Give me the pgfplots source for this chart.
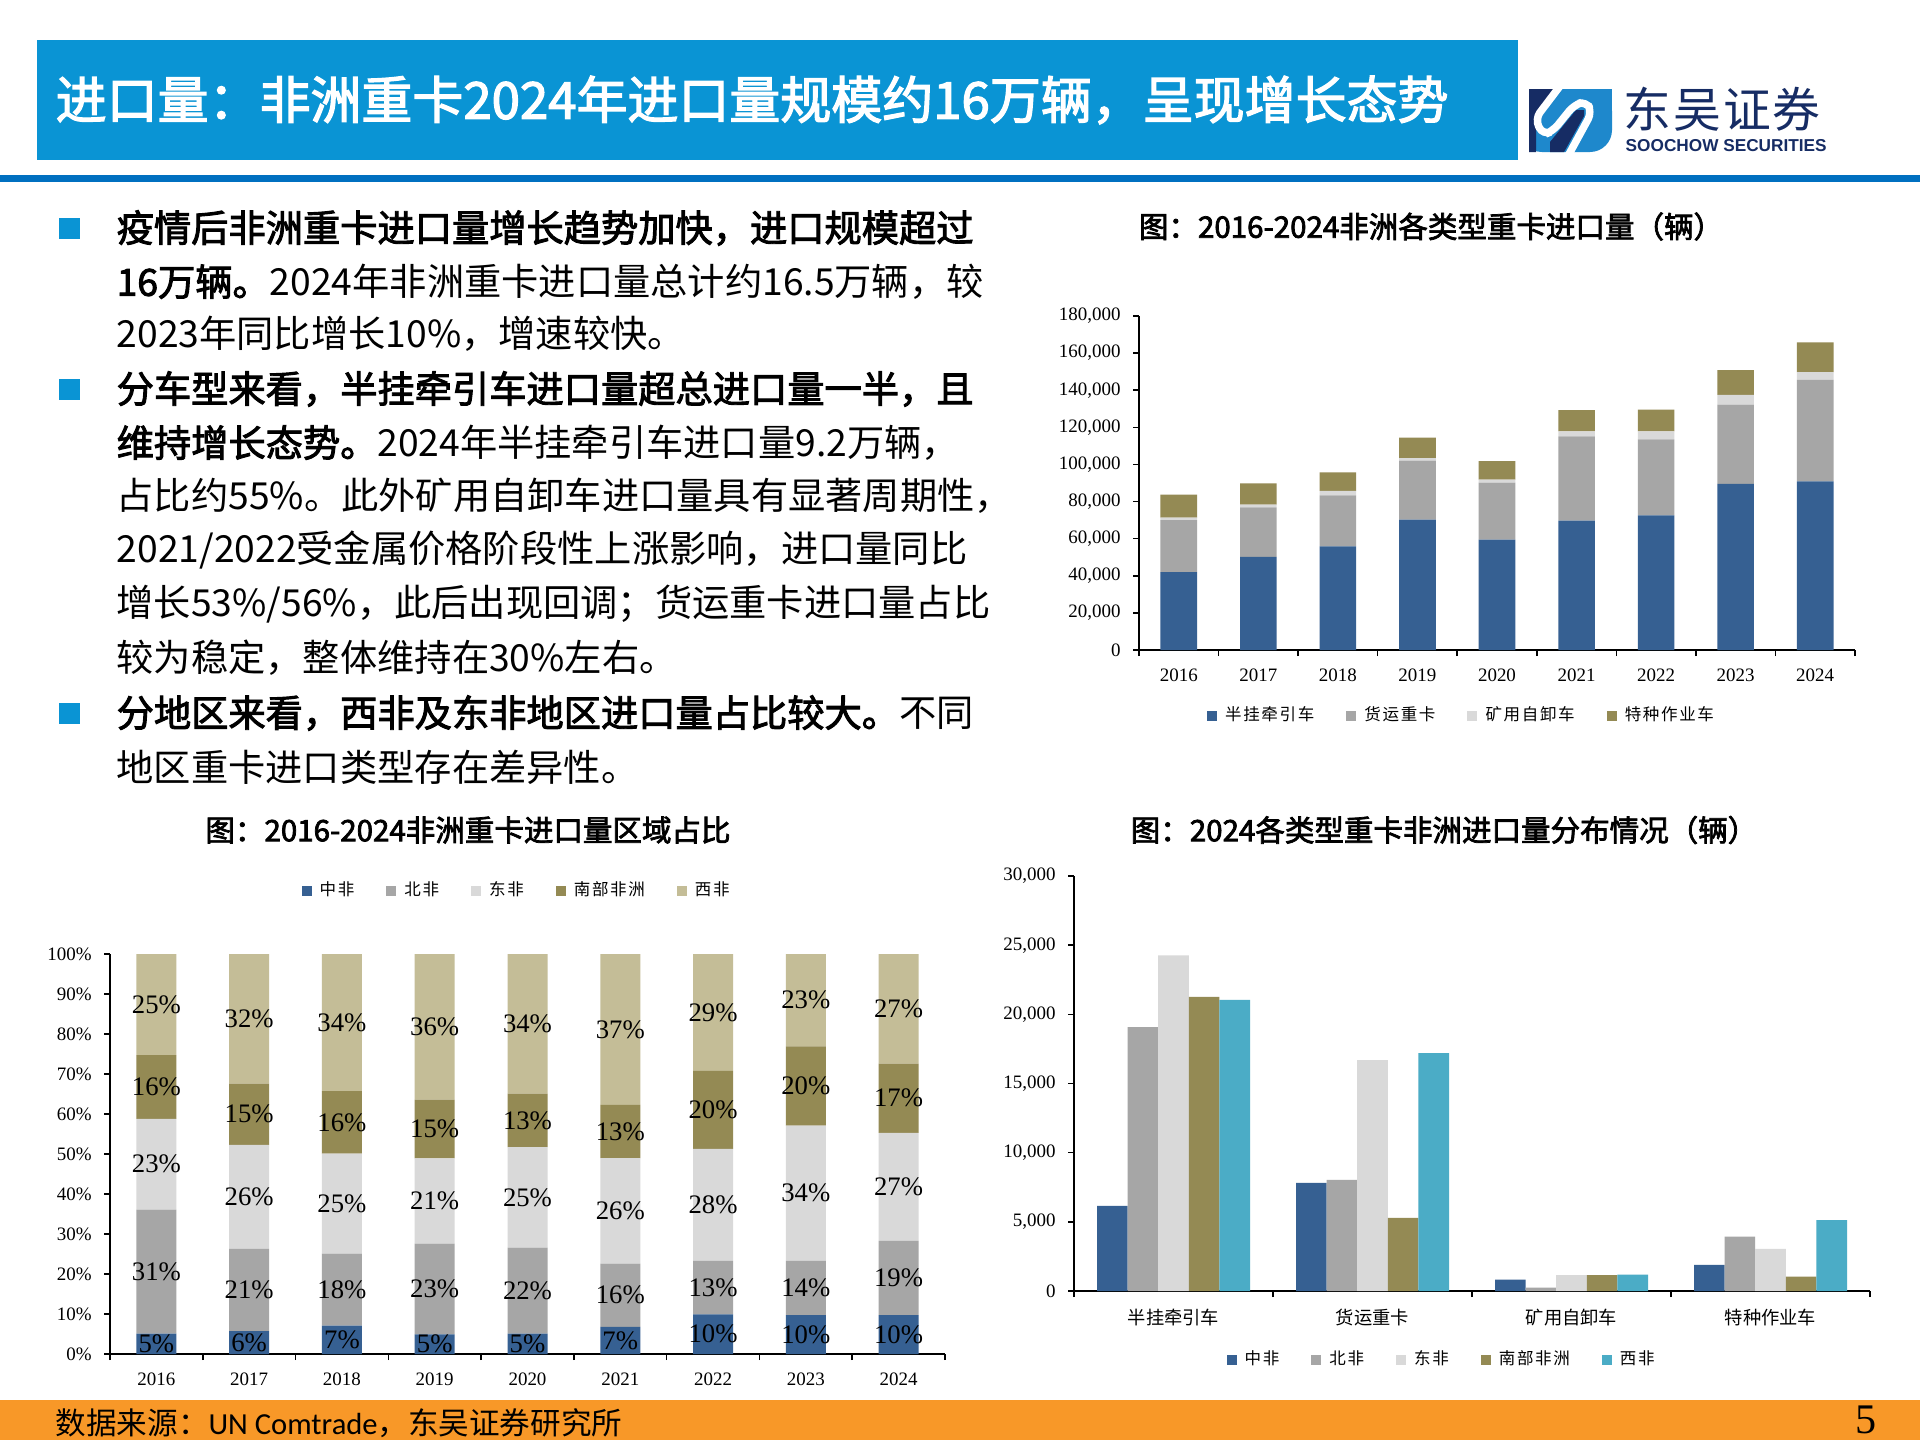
\documentclass[border=0pt]{standalone}
\usepackage{fontspec}
\usepackage{pgfplots}
\pgfplotsset{compat=1.18}
\setmainfont[AutoFakeBold=2.5]{Noto Sans CJK SC}
\newfontfamily\tnr{Liberation Serif}
\newfontfamily\lsans{Liberation Sans}
\newfontfamily\cali{Carlito}
\newfontfamily\legcjk[LetterSpace=10]{Noto Sans CJK SC}
\newfontfamily\logocjk[LetterSpace=4]{Noto Sans CJK SC}

\definecolor{titleblue}{RGB}{10,148,212}
\definecolor{lineblue}{RGB}{0,112,192}
\definecolor{footorange}{RGB}{248,152,40}
\definecolor{cblue}{RGB}{54,96,146}
\definecolor{cgray}{RGB}{166,166,166}
\definecolor{clight}{RGB}{217,217,217}
\definecolor{colive}{RGB}{148,138,84}
\definecolor{ctan}{RGB}{196,189,151}
\definecolor{cteal}{RGB}{75,172,198}
\definecolor{navy}{RGB}{22,44,100}
\definecolor{logoblue}{RGB}{30,136,204}

\pgfplotsset{
  slide/.style={
    scale only axis,
    anchor=south west,
    enlargelimits=false,
    axis x line*=bottom, axis y line*=left,
    tick align=outside,
    axis line style={black, line width=0.45pt},
    tick style={black, line width=0.45pt},
    major tick length=0.06cm,
    tick label style={font=\tnr\fontsize{5.4}{6}\selectfont},
    /pgf/number format/assume math mode=true,
    /pgf/number format/fixed,
    /pgf/number format/precision=0,
    /pgf/number format/1000 sep={,},
    scaled y ticks=false,
    ymin=0,
    legend style={draw=none, fill=none, legend columns=-1,
      font=\legcjk\fontsize{4.7}{5}\selectfont,
      /tikz/every even column/.append style={column sep=0.25cm},
      /tikz/every odd column/.append style={column sep=0.01cm}},
    legend image code/.code={\fill[##1] (0cm,-0.05cm) rectangle (0.10cm,0.05cm);},
  }
}

\begin{document}
\begin{tikzpicture}
\path[use as bounding box, fill=white] (0,0) rectangle (19.2,-14.4);

% header
\fill[titleblue] (0.37,-0.40) rectangle (15.18,-1.60);
\node[anchor=west, inner sep=0, text=white] at (0.55,-1.00) {\bfseries\fontsize{14.5}{16}\selectfont 进口量：非洲重卡2024年进口量规模约16万辆，呈现增长态势};
\fill[lineblue] (0,-1.75) rectangle (19.2,-1.82);

% logo
\begin{scope}
  \clip (15.29,-0.89) rectangle (16.12,-1.52);
  \fill[logoblue, rounded corners=0.22cm] (15.20,-0.89) -- (16.12,-0.89) -- (16.12,-1.52) -- (15.20,-1.52) -- cycle;
  \fill[logoblue] (15.20,-0.89) rectangle (16.12,-1.20);
  \fill[navy] (15.29,-0.89) -- (15.60,-0.89) -- (15.36,-1.20) -- (15.36,-1.52) -- (15.29,-1.52) -- cycle;
  \fill[navy] (15.50,-1.42) -- (15.76,-1.10) -- (15.84,-1.10) -- (15.84,-1.16) -- (15.64,-1.52) -- (15.50,-1.52) -- cycle;
  \draw[white, line width=0.075cm, rounded corners=0.08cm] (15.60,-0.86) -- (15.35,-1.19) -- (15.43,-1.35) -- (15.53,-1.31) -- (15.74,-1.05) -- (15.86,-1.01) -- (15.92,-1.12) -- (15.68,-1.56);
\end{scope}
\node[anchor=west, inner sep=0, text=navy] at (16.23,-1.09) {\logocjk\fontsize{13.6}{15}\selectfont 东吴证券};
\node[anchor=west, inner sep=0, text=navy] at (16.25,-1.46) {\lsans\bfseries\fontsize{4.9}{5}\selectfont SOOCHOW SECURITIES};

% bullets and body text
\foreach \yy in {2.28,3.89,7.13} {\fill[titleblue] (0.59,-\yy+0.105) rectangle (0.80,-\yy-0.105);}
\begin{scope}[every node/.style={anchor=west, inner sep=0, font=\fontsize{10.6}{12}\selectfont}]
\node at (1.16,-2.28) {\bfseries 疫情后非洲重卡进口量增长趋势加快，进口规模超过};
\node at (1.16,-2.82) {{\bfseries 16万辆。}2024年非洲重卡进口量总计约16.5万辆，较};
\node at (1.16,-3.34) {2023年同比增长10\%，增速较快。};
\node at (1.16,-3.89) {\bfseries 分车型来看，半挂牵引车进口量超总进口量一半，且};
\node at (1.16,-4.43) {{\bfseries 维持增长态势。}2024年半挂牵引车进口量9.2万辆，};
\node at (1.16,-4.96) {占比约55\%。此外矿用自卸车进口量具有显著周期性，};
\node at (1.16,-5.50) {2021/2022受金属价格阶段性上涨影响，进口量同比};
\node at (1.16,-6.04) {增长53\%/56\%，此后出现回调；货运重卡进口量占比};
\node at (1.16,-6.58) {较为稳定，整体维持在30\%左右。};
\node at (1.16,-7.13) {{\bfseries 分地区来看，西非及东非地区进口量占比较大。}不同};
\node at (1.16,-7.67) {地区重卡进口类型存在差异性。};
\end{scope}

% chart titles
\node[inner sep=0] at (14.31,-2.265) {\bfseries\fontsize{8.4}{9}\selectfont 图：2016-2024非洲各类型重卡进口量（辆）};
\node[inner sep=0] at (4.68,-8.30) {\bfseries\fontsize{8.4}{9}\selectfont 图：2016-2024非洲重卡进口量区域占比};
\node[inner sep=0] at (14.44,-8.30) {\bfseries\fontsize{8.4}{9}\selectfont 图：2024各类型重卡非洲进口量分布情况（辆）};

% ---------- chart 1 ----------
\begin{axis}[slide, at={(11.39cm,-6.50cm)}, width=7.16cm, height=3.34cm,
  ybar stacked, bar width=0.366cm,
  xmin=-0.5, xmax=8.5, ymax=180000,
  ytick={0,20000,...,180000},
  xtick={-0.5,0.5,...,8.5}, x tick label as interval,
  xticklabels={2016,2017,2018,2019,2020,2021,2022,2023,2024},
  legend style={at={(0.454,-0.198)}, anchor=center},
  legend image code/.code={\fill[#1] (0cm,-0.05cm) rectangle (0.10cm,0.05cm);},
]
\addplot[fill=cblue, draw=none] coordinates {(0,42000) (1,50200) (2,55900) (3,70300) (4,59500) (5,69700) (6,72600) (7,89500) (8,90900)};
\addplot[fill=cgray, draw=none] coordinates {(0,28000) (1,26700) (2,27500) (3,31700) (4,30700) (5,45400) (6,40900) (7,42800) (8,54700)};
\addplot[fill=clight, draw=none] coordinates {(0,1400) (1,1400) (2,2300) (3,1400) (4,1600) (5,2700) (6,4300) (7,5200) (8,4100)};
\addplot[fill=colive, draw=none] coordinates {(0,12300) (1,11500) (2,10000) (3,11000) (4,10000) (5,11500) (6,11800) (7,13300) (8,16100)};
\legend{半挂牵引车,货运重卡,矿用自卸车,特种作业车}
\end{axis}

% ---------- chart 2 ----------
\begin{axis}[slide, at={(1.10cm,-13.54cm)}, width=8.35cm, height=4.00cm,
  ybar stacked, bar width=0.40cm,
  xmin=-0.5, xmax=8.5, ymax=100,
  ytick={0,10,...,100},
  yticklabel={\pgfmathprintnumber{\tick}\%},
  xtick={-0.5,0.5,...,8.5}, x tick label as interval,
  xticklabels={2016,2017,2018,2019,2020,2021,2022,2023,2024},
  legend style={at={(0.49,1.158)}, anchor=center},
  legend image code/.code={\fill[#1] (0cm,-0.05cm) rectangle (0.10cm,0.05cm);},
]
\addplot[fill=cblue, draw=none] coordinates {(0,5.1) (1,5.7) (2,7.1) (3,4.9) (4,5.1) (5,6.8) (6,9.9) (7,9.7) (8,9.7)};
\addplot[fill=cgray, draw=none] coordinates {(0,31.0) (1,20.6) (2,18.0) (3,22.7) (4,21.5) (5,15.8) (6,13.4) (7,13.6) (8,18.6)};
\addplot[fill=clight, draw=none] coordinates {(0,22.7) (1,26.0) (2,25.0) (3,21.3) (4,25.1) (5,26.4) (6,28.0) (7,33.8) (8,27.0)};
\addplot[fill=colive, draw=none] coordinates {(0,15.9) (1,15.3) (2,15.6) (3,14.7) (4,13.4) (5,13.3) (6,19.5) (7,19.8) (8,17.3)};
\addplot[fill=ctan, draw=none] coordinates {(0,25.3) (1,32.4) (2,34.3) (3,36.4) (4,34.9) (5,37.7) (6,29.2) (7,23.1) (8,27.4)};
\legend{中非,北非,东非,南部非洲,西非}
\end{axis}
% labels of chart 2
\begin{axis}[at={(1.10cm,-13.54cm)}, anchor=south west, scale only axis, width=8.35cm, height=4.00cm,
  xmin=-0.5, xmax=8.5, ymin=0, ymax=100, hide axis, clip=false]
\addplot[only marks, mark=*, mark size=0pt, mark options={draw=none, fill=none},
  nodes near coords, point meta=explicit symbolic, nodes near coords align=center,
  every node near coord/.append style={font=\tnr\fontsize{7.6}{8}\selectfont, inner sep=0pt, text=black}]
coordinates {
(0,2.55) [5\%] (0,20.6) [31\%] (0,47.45) [23\%] (0,66.75) [16\%] (0,87.35) [25\%]
(1,2.85) [6\%] (1,16.0) [21\%] (1,39.3) [26\%] (1,59.95) [15\%] (1,83.8) [32\%]
(2,3.55) [7\%] (2,16.1) [18\%] (2,37.6) [25\%] (2,57.9) [16\%] (2,82.85) [34\%]
(3,2.45) [5\%] (3,16.25) [23\%] (3,38.25) [21\%] (3,56.25) [15\%] (3,81.8) [36\%]
(4,2.55) [5\%] (4,15.85) [22\%] (4,39.15) [25\%] (4,58.4) [13\%] (4,82.55) [34\%]
(5,3.4) [7\%] (5,14.7) [16\%] (5,35.8) [26\%] (5,55.65) [13\%] (5,81.15) [37\%]
(6,4.95) [10\%] (6,16.6) [13\%] (6,37.3) [28\%] (6,61.05) [20\%] (6,85.4) [29\%]
(7,4.85) [10\%] (7,16.5) [14\%] (7,40.2) [34\%] (7,67.0) [20\%] (7,88.45) [23\%]
(8,4.85) [10\%] (8,19.0) [19\%] (8,41.8) [27\%] (8,63.95) [17\%] (8,86.3) [27\%]
};
\end{axis}

% ---------- chart 3 ----------
\begin{axis}[slide, at={(10.74cm,-12.91cm)}, width=7.96cm, height=4.15cm,
  ybar=0pt, bar width=0.306cm,
  xmin=-0.5, xmax=3.5, ymax=30000,
  ytick={0,5000,...,30000},
  xtick={-0.5,0.5,1.5,2.5,3.5}, x tick label as interval,
  xticklabels={半挂牵引车,货运重卡,矿用自卸车,特种作业车},
  x tick label style={font=\fontsize{5.2}{6}\selectfont},
  legend style={at={(0.465,-0.166)}, anchor=center},
  legend image code/.code={\fill[#1] (0cm,-0.05cm) rectangle (0.10cm,0.05cm);},
]
\addplot[fill=cblue, draw=none] coordinates {(0,6150) (1,7820) (2,820) (3,1890)};
\addplot[fill=cgray, draw=none] coordinates {(0,19070) (1,8040) (2,250) (3,3930)};
\addplot[fill=clight, draw=none] coordinates {(0,24270) (1,16700) (2,1150) (3,3040)};
\addplot[fill=colive, draw=none] coordinates {(0,21260) (1,5280) (2,1150) (3,1050)};
\addplot[fill=cteal, draw=none] coordinates {(0,21040) (1,17200) (2,1190) (3,5130)};
\legend{中非,北非,东非,南部非洲,西非}
\end{axis}

% footer
\fill[footorange] (0,-14.00) rectangle (19.2,-14.40);
\node[anchor=west, inner sep=0] at (0.55,-14.23) {\fontsize{8.7}{9}\selectfont 数据来源：{\cali UN Comtrade}，东吴证券研究所};
\node[inner sep=0] at (18.66,-14.20) {\tnr\fontsize{12}{13}\selectfont 5};
\end{tikzpicture}
\end{document}
